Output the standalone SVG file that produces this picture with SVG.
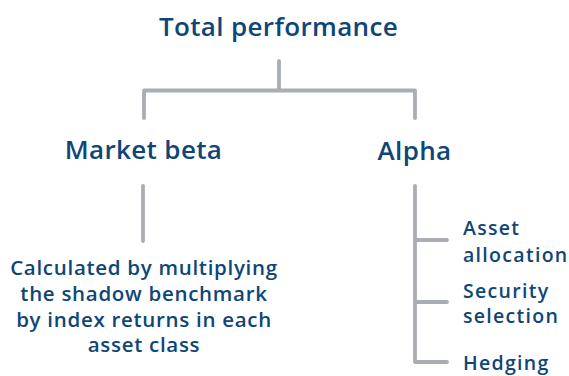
<svg xmlns="http://www.w3.org/2000/svg" width="569" height="376" viewBox="0 0 569 376">
<style>
.t{font-family:"Open Sans","Noto Sans","Liberation Sans",sans-serif;font-weight:600;fill:#0d4677}
.h{font-size:26px;text-anchor:middle;letter-spacing:0.35px}
.s{font-size:20.5px;text-anchor:middle;letter-spacing:0.7px}
.r{font-size:19.5px;letter-spacing:1.3px}
.c{fill:none;stroke:#a8aeb4;stroke-width:3.8;stroke-linecap:round;stroke-linejoin:round}
</style>
<rect width="569" height="376" fill="#ffffff"/>
<g id="connectors">
<path class="c" d="M279 61V90.5M144 118V90.5H415V118"/>
<path class="c" d="M143 186V241"/>
<path class="c" d="M415 186V362H447M415 240H447M415 302H447"/>
</g>
<g id="total"><text class="t h" x="278.5" y="36">Total performance</text></g>
<g id="market-beta"><text class="t h" x="143.5" y="159">Market beta</text></g>
<g id="alpha"><text class="t h" x="414.5" y="160">Alpha</text></g>
<g id="beta-desc">
<text class="t s" x="144" y="275">Calculated by multiplying</text>
<text class="t s" x="144" y="301">the shadow benchmark</text>
<text class="t s" x="144" y="326.5">by index returns in each</text>
<text class="t s" x="144" y="352">asset class</text>
</g>
<g id="asset-allocation"><text class="t r" x="463" y="235">Asset</text><text class="t r" x="463" y="262">allocation</text></g>
<g id="security-selection"><text class="t r" x="463" y="298">Security</text><text class="t r" x="463" y="323">selection</text></g>
<g id="hedging"><text class="t r" x="463" y="370">Hedging</text></g>
</svg>
